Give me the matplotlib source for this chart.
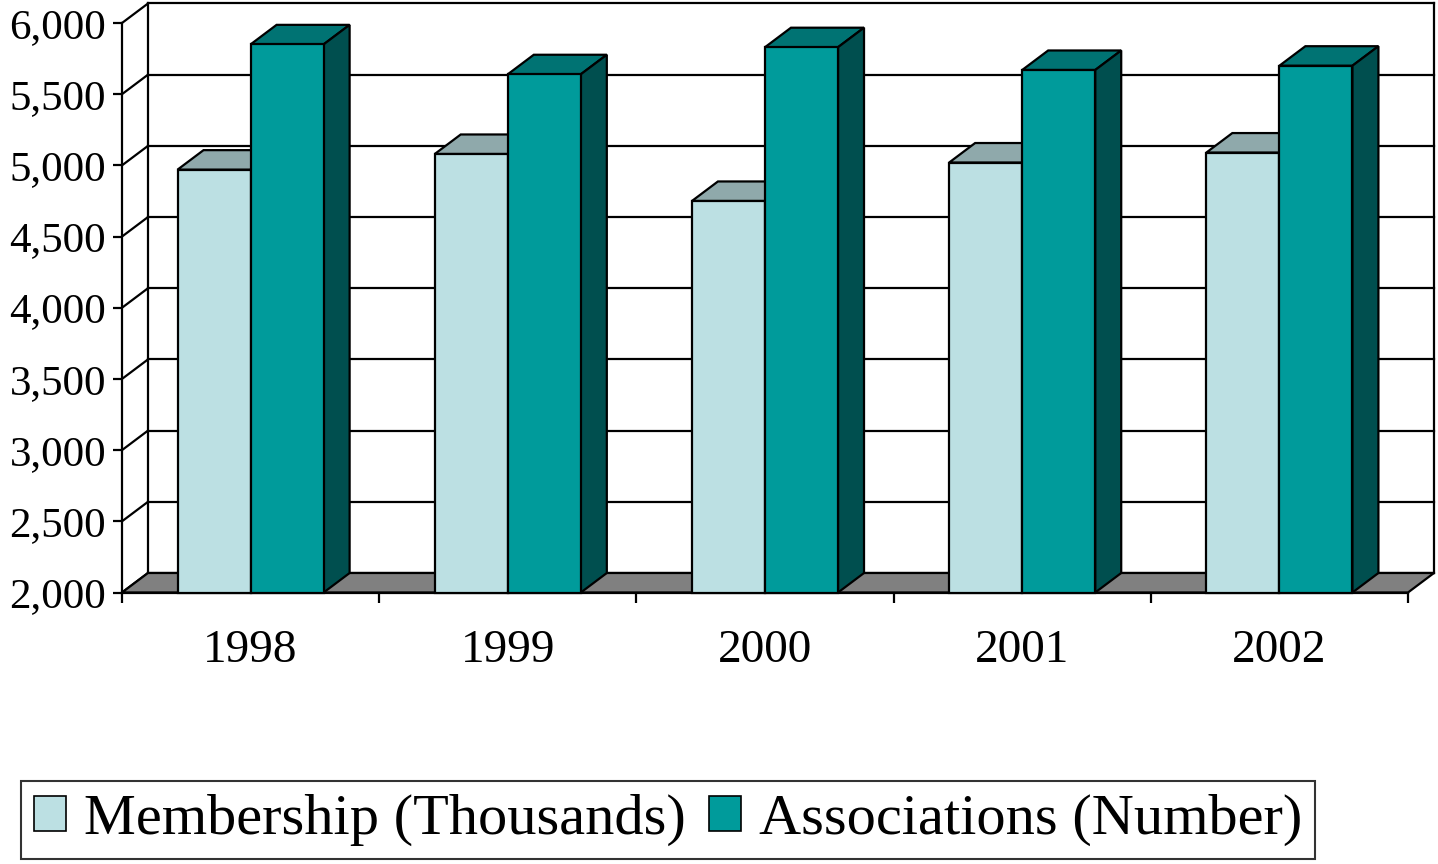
import matplotlib
matplotlib.use("Agg")
import matplotlib.pyplot as plt
from matplotlib.patches import Polygon, Patch
from matplotlib.ticker import FuncFormatter

years = ["1998", "1999", "2000", "2001", "2002"]
membership = [4970, 5080, 4750, 5020, 5090]
associations = [5850, 5640, 5830, 5670, 5700]
y_ticks = [2000, 2500, 3000, 3500, 4000, 4500, 5000, 5500, 6000]
series_names = ["Membership (Thousands)", "Associations (Number)"]

plt.rcParams['font.family'] = ['Liberation Serif', 'DejaVu Serif']

# colours: front, top, side
light = ("#bce0e3", "#8fa9ab", "#5f7f82")
teal = ("#009b9b", "#007373", "#004f4f")
floor_col = "#808080"

ymin, ymax = 2000, 6000
dx = 0.101   # depth offset in category units
dy = 137     # depth offset in value units
bw = 0.284   # bar width
lw = 1.6

fig = plt.figure(figsize=(14.38, 8.64), dpi=100)
ax = fig.add_axes([122 / 1438, (864 - 592.5) / 864, 1286 / 1438, 569.5 / 864])
ax.set_xlim(0, len(years))
ax.set_ylim(ymin, ymax)
for s in ax.spines.values():
    s.set_visible(False)


def poly(pts, fc, z):
    ax.add_patch(Polygon(pts, closed=True, facecolor=fc, edgecolor="black",
                         linewidth=lw, joinstyle="miter", clip_on=False, zorder=z))


n = len(years)
# back wall gridlines and left wall diagonals
for v in y_ticks:
    ax.plot([dx, n + dx], [v + dy, v + dy], color="black", lw=lw, clip_on=False, zorder=1)
    ax.plot([0, dx], [v, v + dy], color="black", lw=lw, clip_on=False, zorder=1)
ax.plot([dx, dx], [ymin + dy, ymax + dy], color="black", lw=lw, clip_on=False, zorder=1)
ax.plot([n + dx, n + dx], [ymin + dy, ymax + dy], color="black", lw=lw, clip_on=False, zorder=1)
ax.plot([0, 0], [ymin, ymax], color="black", lw=lw, clip_on=False, zorder=1)

# floor
poly([(0, ymin), (n, ymin), (n + dx, ymin + dy), (dx, ymin + dy)], floor_col, 2)


def bar3d(x0, val, cols, z):
    x1 = x0 + bw
    poly([(x0, val), (x1, val), (x1 + dx, val + dy), (x0 + dx, val + dy)], cols[1], z)
    poly([(x1, ymin), (x1 + dx, ymin + dy), (x1 + dx, val + dy), (x1, val)], cols[2], z)
    poly([(x0, ymin), (x1, ymin), (x1, val), (x0, val)], cols[0], z + 0.5)


for i in range(n):
    c = i + 0.5
    bar3d(c - bw, membership[i], light, 3)
    bar3d(c, associations[i], teal, 5)

# axes ticks
ax.set_yticks(y_ticks)
ax.yaxis.set_major_formatter(FuncFormatter(lambda v, p: f"{int(v):,}"))
ax.tick_params(axis="y", direction="out", length=6.5, width=lw, pad=5, labelsize=31)
ax.set_xticks(range(n + 1))
ax.set_xticklabels([])
ax.set_xticks([i + 0.5 for i in range(n)], minor=True)
ax.set_xticklabels(years, minor=True)
ax.tick_params(axis="x", which="major", direction="out", length=7.5, width=lw)
ax.tick_params(axis="x", which="minor", length=0, pad=27, labelsize=34)
ax.plot([0, n], [ymin, ymin], color="black", lw=lw, clip_on=False, zorder=2)

handles = [Patch(facecolor=light[0], edgecolor="black", linewidth=1.2),
           Patch(facecolor=teal[0], edgecolor="black", linewidth=1.2)]
leg = fig.legend(handles, series_names, loc="center", ncol=2,
                 bbox_to_anchor=(668 / 1438, 44 / 864), fontsize=42,
                 frameon=True, fancybox=False, edgecolor="black",
                 handlelength=0.55, handleheight=0.55, handletextpad=0.3,
                 columnspacing=0.4, borderpad=0.22, borderaxespad=0)
leg.get_frame().set_linewidth(1.5)

fig.savefig("out.png", dpi=100)
